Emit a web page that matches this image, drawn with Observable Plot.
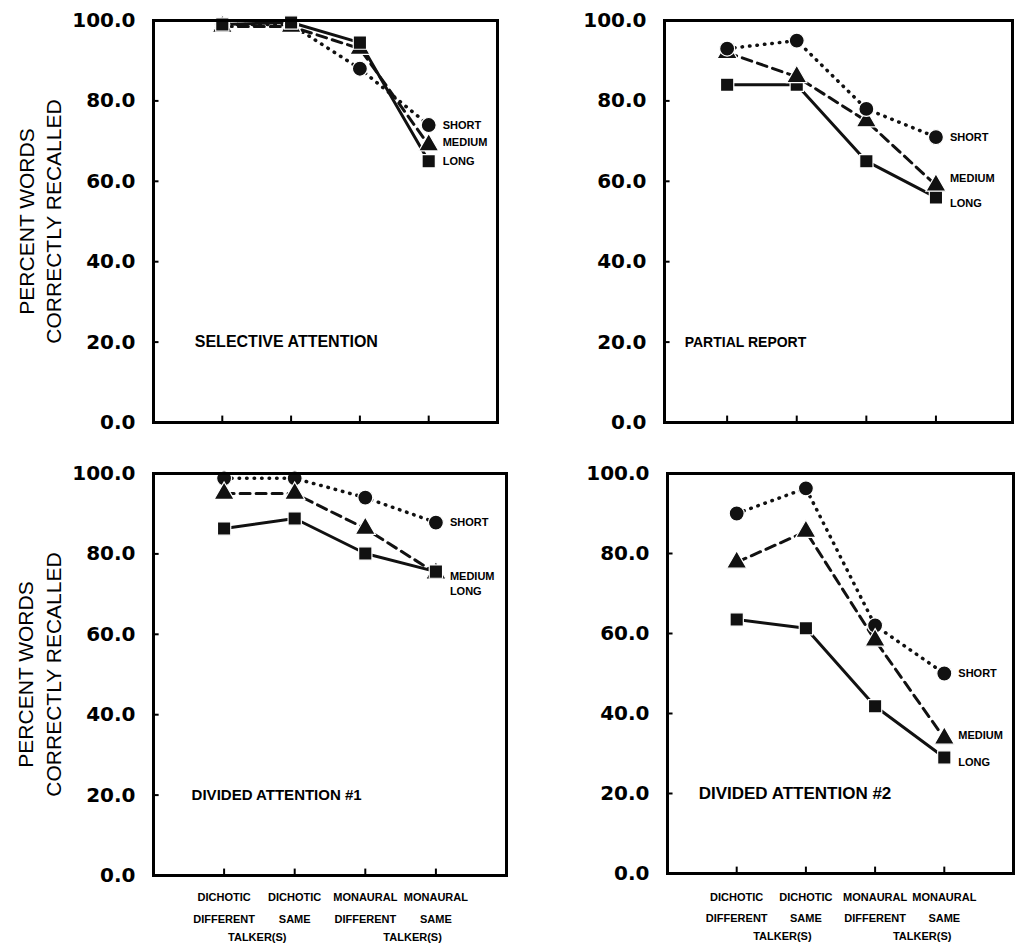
<!DOCTYPE html>
<html><head><meta charset="utf-8">
<script src="https://cdn.jsdelivr.net/npm/d3@7"></script>
<script src="https://cdn.jsdelivr.net/npm/@observablehq/plot@0.6"></script>
<style>
body{margin:0;background:#fff;}
#chart{position:relative;width:1021px;height:951px;background:#fff;}
#chart svg{position:absolute;}
</style></head><body><div id="chart"></div>
<script>
// ---- data ----
const series = ["SHORT", "MEDIUM", "LONG"];
const catLine1 = ["DICHOTIC", "DICHOTIC", "MONAURAL", "MONAURAL"];
const catLine2 = ["DIFFERENT", "SAME", "DIFFERENT", "SAME"];
const groupLabels = ["TALKER(S)", "TALKER(S)"];
const yTicks = [0, 20, 40, 60, 80, 100];
const yAxisLabel = "PERCENT WORDS\nCORRECTLY RECALLED";
const panelTitles = ["SELECTIVE ATTENTION", "PARTIAL REPORT", "DIVIDED ATTENTION #1", "DIVIDED ATTENTION #2"];

const selectiveShort  = [99, 99, 88, 74];
const selectiveMedium = [98.5, 98.5, 93, 69];
const selectiveLong   = [99, 99.5, 94.5, 65];

const partialShort  = [93, 95, 78, 71];
const partialMedium = [92, 86, 75, 59];
const partialLong   = [84, 84, 65, 56];

const divided1Short  = [98.8, 98.8, 94, 87.8];
const divided1Medium = [95, 95, 86.3, 75.2];
const divided1Long   = [86.3, 88.8, 80.1, 75.6];

const divided2Short  = [90, 96.3, 62, 50];
const divided2Medium = [77.8, 85.5, 58.3, 33.8];
const divided2Long   = [63.5, 61.3, 41.8, 29];

// ---- drawing ----
const FONT = "Liberation Sans, Arial, Helvetica, sans-serif";
function rowsOf(arrs, order) {
  return order.flatMap(s => arrs[series.indexOf(s)].map((v, i) => ({series: s, cat: i + 1, value: v})));
}
const dashes = {SHORT: "0.5,7", MEDIUM: "10,6", LONG: null};

function panel(cfg) {
  const rows = rowsOf(cfg.arrays, cfg.order || series);
  const last = rows.filter(d => d.cat === 4);
  const marks = [
    Plot.ruleY([20, 40, 60, 80], {x1: cfg.xDomain[0], x2: cfg.xDomain[0] + 0.08, strokeWidth: 2}),
    Plot.ruleX([1, 2, 3, 4], {y1: 0, y2: 1.6, strokeWidth: 2}),
    Plot.axisY(yTicks, {tickSize: 0, tickPadding: 18, tickFormat: d3.format(".1f"),
      fontSize: 20, fontWeight: "bold", label: null}),
    ...series.map(s => Plot.line(rows.filter(d => d.series === s), {
      x: "cat", y: "value", stroke: "#111", strokeWidth: s === "SHORT" ? 3.5 : 3,
      strokeDasharray: dashes[s], strokeLinecap: "round"})),
    Plot.dot(rows, {x: "cat", y: "value", symbol: "series", r: 7.5, fill: "#111", stroke: "white", strokeWidth: 1.2}),
    ...series.map(s => Plot.text(last.filter(d => d.series === s), {
      x: "cat", y: "value", text: "series", dx: 14, dy: cfg.labelDy[s], textAnchor: "start",
      fontSize: 11, fontWeight: "bold"})),
    Plot.text([cfg.title], {x: cfg.titleX, y: 20, text: d => d, textAnchor: "start",
      fontSize: cfg.titleSize, fontWeight: "bold"}),
    Plot.frame({strokeWidth: 3})
  ];
  if (cfg.yLabelX !== undefined) {
    marks.push(Plot.text([yAxisLabel], {x: cfg.yLabelX, y: 50, rotate: -90, text: d => d,
      fontSize: 21, lineHeight: 1.33}));
  }
  if (cfg.xLabels) {
    const cats = catLine1.map((c, i) => ({cat: i + 1, l1: c, l2: catLine2[i]}));
    marks.push(Plot.text(cats, {x: "cat", y: 0, text: "l1", dy: cfg.xdy[0], fontSize: 11, fontWeight: "bold"}));
    marks.push(Plot.text(cats, {x: "cat", y: 0, text: "l2", dy: cfg.xdy[1], fontSize: 11, fontWeight: "bold"}));
    marks.push(Plot.text(groupLabels.map((g, i) => ({g, x: cfg.groupX[i]})),
      {x: "x", y: 0, text: "g", dy: cfg.xdy[2], fontSize: 11, fontWeight: "bold"}));
  }
  const svg = Plot.plot({
    width: cfg.width, height: cfg.height,
    marginLeft: cfg.m[3], marginRight: cfg.m[1], marginTop: cfg.m[0], marginBottom: cfg.m[2],
    x: {domain: cfg.xDomain, axis: null},
    y: {domain: [0, 100]},
    symbol: {domain: series, range: ["circle", "triangle", "square"]},
    style: {fontFamily: FONT, overflow: "visible", background: "transparent", color: "#000"},
    marks
  });
  d3.select(svg).selectAll("g[aria-label='y-axis tick label'] text")
    .style("font-family", "DejaVu Sans, Verdana, sans-serif");
  svg.style.left = cfg.left + "px";
  svg.style.top = cfg.top + "px";
  document.getElementById("chart").appendChild(svg);
}

panel({arrays: [selectiveShort, selectiveMedium, selectiveLong], title: panelTitles[0], titleX: 0.6, titleSize: 16,
  xDomain: [0, 5], width: 510, height: 450, m: [20, 13, 28, 153], left: 0, top: 0,
  labelDy: {SHORT: 0, MEDIUM: -3, LONG: 0}, yLabelX: -1.671});
panel({arrays: [partialShort, partialMedium, partialLong], title: panelTitles[1], titleX: 0.39, titleSize: 14,
  xDomain: [0.1, 5.1], width: 511, height: 450, m: [20, 9, 28, 154], left: 510, top: 0,
  order: ["LONG", "MEDIUM", "SHORT"],
  labelDy: {SHORT: 0, MEDIUM: -7, LONG: 6}});
panel({arrays: [divided1Short, divided1Medium, divided1Long], title: panelTitles[2], titleX: 0.54, titleSize: 15,
  xDomain: [0, 5], width: 510, height: 501, m: [23, 4, 76, 153], left: 0, top: 450,
  labelDy: {SHORT: 0, MEDIUM: 3, LONG: 20}, yLabelX: -1.629, xLabels: true, xdy: [22, 44, 62], groupX: [1.47, 3.67]});
panel({arrays: [divided2Short, divided2Medium, divided2Long], title: panelTitles[3], titleX: 0.45, titleSize: 17,
  xDomain: [0, 5], width: 511, height: 501, m: [23, 8, 78, 157], left: 510, top: 450,
  labelDy: {SHORT: 0, MEDIUM: -3, LONG: 5}, xLabels: true, xdy: [24, 45, 63], groupX: [1.66, 3.68]});
</script></body></html>
